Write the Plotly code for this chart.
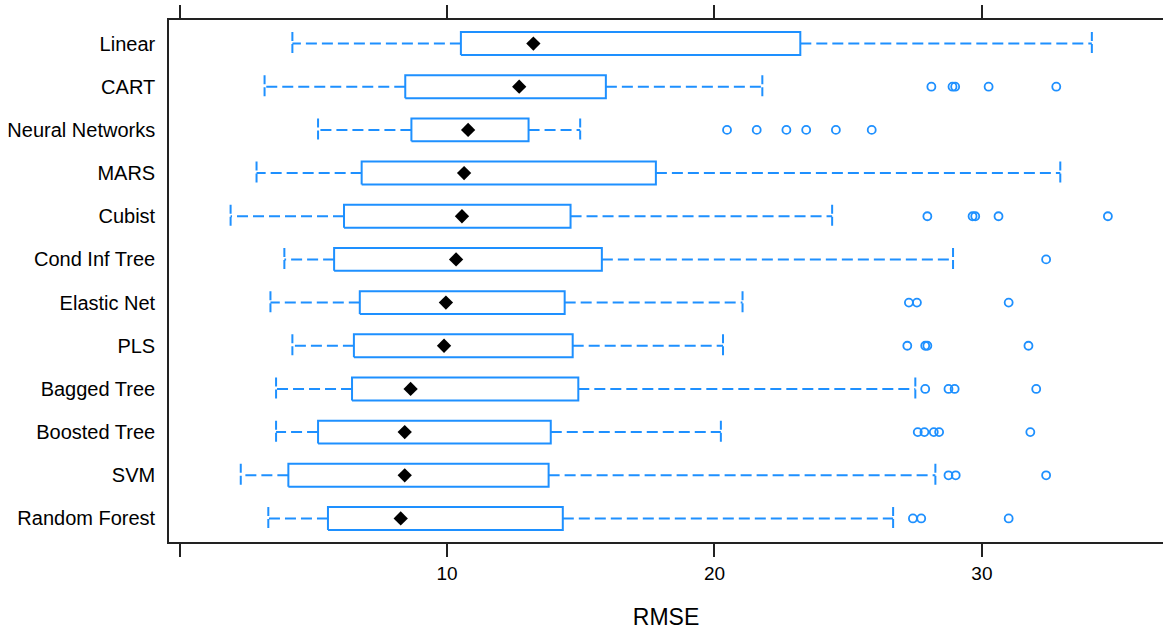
import plotly.graph_objects as go

# Resampled RMSE per model (top row first)
models = ["Linear", "CART", "Neural Networks", "MARS", "Cubist", "Cond Inf Tree",
          "Elastic Net", "PLS", "Bagged Tree", "Boosted Tree", "SVM", "Random Forest"]
lower_whisker = [4.22, 3.18, 5.18, 2.88, 1.91, 3.92, 3.40, 4.22, 3.61, 3.61, 2.29, 3.32]
q1 = [10.52, 8.44, 8.67, 6.81, 6.15, 5.78, 6.74, 6.52, 6.45, 5.18, 4.07, 5.55]
median = [13.23, 12.70, 10.79, 10.64, 10.56, 10.34, 9.96, 9.89, 8.64, 8.42, 8.42, 8.27]
q3 = [23.21, 15.94, 13.05, 17.81, 14.62, 15.79, 14.40, 14.70, 14.91, 13.88, 13.80, 14.33]
upper_whisker = [34.11, 21.79, 14.98, 32.93, 24.40, 28.92, 21.05, 20.32, 27.51, 20.24, 28.26, 26.68]
outliers = [
    [],
    [28.11, 28.90, 29.00, 30.25, 32.78],
    [20.47, 21.58, 22.69, 23.43, 24.54, 25.88],
    [],
    [27.96, 29.65, 29.75, 30.62, 34.71],
    [32.40],
    [27.27, 27.57, 31.00],
    [27.21, 27.88, 27.96, 31.74],
    [27.88, 28.75, 28.98, 32.03],
    [27.60, 27.85, 28.20, 28.40, 31.81],
    [28.75, 29.02, 32.40],
    [27.42, 27.73, 31.00],
]
x_ticks = [0, 10, 20, 30]
x_tick_labels = ["", "10", "20", "30"]

BLUE = "#1e90ff"
HALF = 0.265          # half height of a box, in category units
DASH = "11px,5px"

n = len(models)
ypos = [n - i for i in range(n)]

# whisker segments and their end caps
wx, wy, cx, cy = [], [], [], []
for y, lo, a, b, hi in zip(ypos, lower_whisker, q1, q3, upper_whisker):
    wx += [a, lo, None, b, hi, None]
    wy += [y, y, None, y, y, None]
    cx += [lo, lo, None, hi, hi, None]
    cy += [y + HALF, y - HALF, None, y + HALF, y - HALF, None]

# box outlines
bx, by = [], []
for y, a, b in zip(ypos, q1, q3):
    bx += [a, b, b, a, a, None]
    by += [y - HALF, y - HALF, y + HALF, y + HALF, y - HALF, None]

ox, oy = [], []
for y, pts in zip(ypos, outliers):
    ox += pts
    oy += [y] * len(pts)

fig = go.Figure()
fig.add_trace(go.Scatter(x=wx, y=wy, mode="lines",
                         line=dict(color=BLUE, width=2, dash=DASH), hoverinfo="skip"))
fig.add_trace(go.Scatter(x=cx, y=cy, mode="lines",
                         line=dict(color=BLUE, width=2, dash="9px,3px"), hoverinfo="skip"))
fig.add_trace(go.Scatter(x=bx, y=by, mode="lines",
                         line=dict(color=BLUE, width=2), hoverinfo="skip"))
fig.add_trace(go.Scatter(x=ox, y=oy, mode="markers",
                         marker=dict(symbol="circle-open", size=8, color=BLUE,
                                     line=dict(color=BLUE, width=1.8))))
fig.add_trace(go.Scatter(x=median, y=ypos, mode="markers",
                         marker=dict(symbol="diamond", size=11, color="black")))

fig.update_layout(
    width=1163, height=630,
    margin=dict(l=169, r=0, t=20, b=88),
    paper_bgcolor="white", plot_bgcolor="white",
    showlegend=False,
    font=dict(family="Liberation Sans, Arial, sans-serif", size=19, color="black"),
    xaxis=dict(
        range=[-0.393, 36.77],
        tickvals=x_ticks, ticktext=x_tick_labels,
        ticks="outside", ticklen=13, tickwidth=1.6, tickcolor="#222",
        showline=True, linecolor="#222", linewidth=1.6, mirror="ticks",
        showgrid=False, zeroline=False,
        title=dict(text="RMSE", font=dict(size=23), standoff=26),
        tickfont=dict(size=19),
    ),
    yaxis=dict(
        range=[0.455, n + 0.545],
        tickvals=ypos, ticktext=models,
        ticks="", showline=True, linecolor="#222", linewidth=1.6, mirror=False,
        showgrid=False, zeroline=False, ticklabelstandoff=8,
        tickfont=dict(size=20),
    ),
)

fig.write_html("out.html")
